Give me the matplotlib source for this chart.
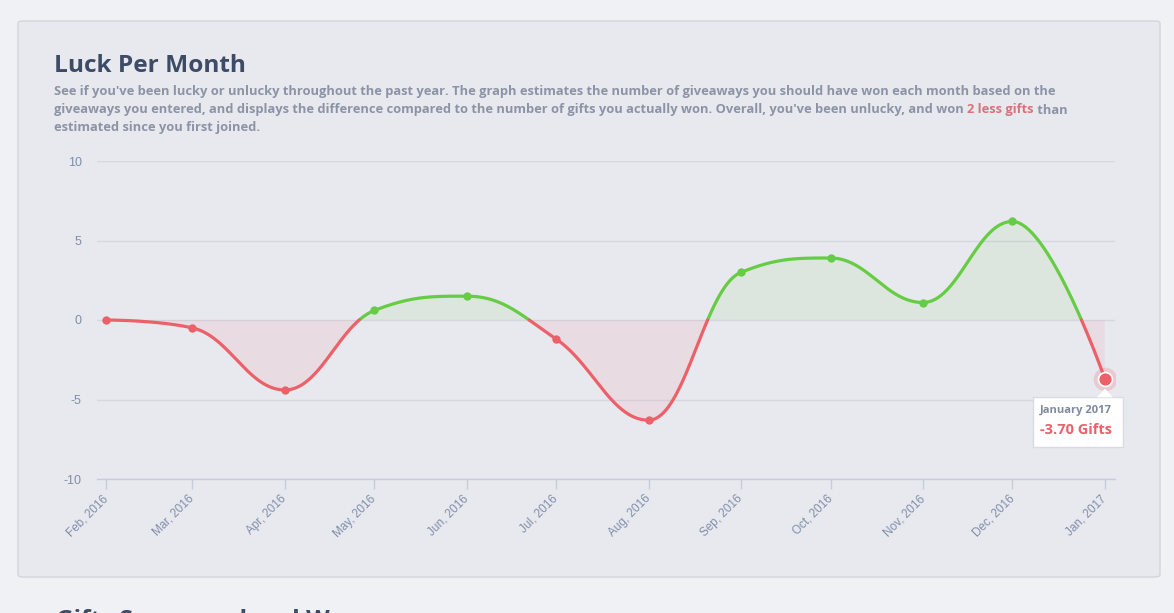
import numpy as np
import pandas as pd
import matplotlib
matplotlib.use("Agg")
import matplotlib.pyplot as plt
from matplotlib.patches import FancyBboxPatch, Polygon

# ---------------- Dados ----------------
MESES = pd.date_range("2016-02-01", periods=12, freq="MS")
ROTULOS = ["Feb, 2016", "Mar, 2016", "Apr, 2016", "May, 2016", "Jun, 2016", "Jul, 2016",
           "Aug, 2016", "Sep, 2016", "Oct, 2016", "Nov, 2016", "Dec, 2016", "Jan, 2017"]
SORTE = [0.0, -0.5, -4.4, 0.6, 1.5, -1.2, -6.3, 3.0, 3.9, 1.1, 6.2, -3.70]
Y_TICKS = [-10, -5, 0, 5, 10]

TITULO = "Luck Per Month"
DESC_1 = ("See if you've been lucky or unlucky throughout the past year. The graph estimates the "
          "number of giveaways you should have won each month based on the")
DESC_2A = ("giveaways you entered, and displays the difference compared to the number of gifts "
           "you actually won. Overall, you've been unlucky, and won ")
DESC_2B = "2 less gifts"
DESC_2C = " than"
DESC_3 = "estimated since you first joined."

VERDE = "#66cc44"
VERMELHO = "#ec6069"
FUNDO = "#f0f1f5"
PAINEL = "#e8e9ee"

W, H = 1174, 613


def fx(px):
    return px / W


def fy(py):
    return 1 - py / H


# ---------------- Spline estilo Highcharts ----------------
def spline(xs, ys, n=80):
    xs = np.asarray(xs, float)
    ys = np.asarray(ys, float)
    k = len(xs)
    lc = [(x, y) for x, y in zip(xs, ys)]
    rc = [(x, y) for x, y in zip(xs, ys)]
    sm, den = 1.5, 2.5
    for i in range(1, k - 1):
        lx, ly = xs[i - 1], ys[i - 1]
        px, py = xs[i], ys[i]
        nx, ny = xs[i + 1], ys[i + 1]
        lcx = (sm * px + lx) / den
        lcy = (sm * py + ly) / den
        rcx = (sm * px + nx) / den
        rcy = (sm * py + ny) / den
        corr = ((rcy - lcy) * (rcx - px)) / (rcx - lcx) + py - rcy
        lcy += corr
        rcy += corr
        if lcy > ly and lcy > py:
            lcy = max(ly, py)
            rcy = 2 * py - lcy
        elif lcy < ly and lcy < py:
            lcy = min(ly, py)
            rcy = 2 * py - lcy
        if rcy > ny and rcy > py:
            rcy = max(ny, py)
            lcy = 2 * py - rcy
        elif rcy < ny and rcy < py:
            rcy = min(ny, py)
            lcy = 2 * py - rcy
        lc[i] = (lcx, lcy)
        rc[i] = (rcx, rcy)
    t = np.linspace(0, 1, n)
    cx, cy = [], []
    for i in range(1, k):
        p0 = np.array([xs[i - 1], ys[i - 1]])
        p1 = np.array(rc[i - 1])
        p2 = np.array(lc[i])
        p3 = np.array([xs[i], ys[i]])
        b = ((1 - t) ** 3)[:, None] * p0 + (3 * (1 - t) ** 2 * t)[:, None] * p1 \
            + (3 * (1 - t) * t ** 2)[:, None] * p2 + (t ** 3)[:, None] * p3
        if i > 1:
            b = b[1:]
        cx.extend(b[:, 0])
        cy.extend(b[:, 1])
    return np.array(cx), np.array(cy)


def cortar_no_zero(cx, cy):
    # insere os pontos onde a curva cruza o zero
    ox, oy = [cx[0]], [cy[0]]
    for i in range(1, len(cx)):
        if (cy[i - 1] > 0 > cy[i]) or (cy[i - 1] < 0 < cy[i]):
            f = cy[i - 1] / (cy[i - 1] - cy[i])
            ox.append(cx[i - 1] + f * (cx[i] - cx[i - 1]))
            oy.append(0.0)
        ox.append(cx[i])
        oy.append(cy[i])
    return np.array(ox), np.array(oy)


dias = np.array([(m - MESES[0]).days for m in MESES], float)
cx, cy = cortar_no_zero(*spline(dias, SORTE))

# ---------------- Figura ----------------
fig = plt.figure(figsize=(W / 100, H / 100), dpi=100, facecolor=FUNDO)

painel = FancyBboxPatch((fx(18), fy(577)), fx(1160) - fx(18), fy(21) - fy(577),
                        boxstyle="round,pad=0,rounding_size=0.004",
                        transform=fig.transFigure, facecolor=PAINEL, edgecolor="#d3d5dd",
                        linewidth=1.0, zorder=-5)
fig.patches.append(painel)

ax = fig.add_axes([fx(97), fy(479), fx(1115) - fx(97), fy(161) - fy(479)])
ax.set_facecolor("none")

ax.fill_between(cx, cy, 0, where=cy >= 0, color=VERDE, alpha=0.09, linewidth=0, interpolate=True)
ax.fill_between(cx, cy, 0, where=cy <= 0, color=VERMELHO, alpha=0.09, linewidth=0, interpolate=True)

ax.plot(cx, np.ma.masked_where(cy < 0, cy), color=VERDE, linewidth=2.3, solid_capstyle="round", zorder=3)
ax.plot(cx, np.ma.masked_where(cy > 0, cy), color=VERMELHO, linewidth=2.3, solid_capstyle="round", zorder=3)

for d, v in zip(dias[:-1], SORTE[:-1]):
    ax.plot(d, v, "o", color=VERDE if v > 0 else VERMELHO, markersize=6, markeredgewidth=0, zorder=4)

# ponto destacado (hover)
ax.plot(dias[-1], SORTE[-1], "o", color=VERMELHO, markersize=17, alpha=0.22, markeredgewidth=0, zorder=4)
ax.plot(dias[-1], SORTE[-1], "o", color=VERMELHO, markersize=10, markeredgecolor="white",
        markeredgewidth=1.2, zorder=5)

ax.set_xlim(dias[0] - 3.0, dias[-1] + 3.4)
ax.set_ylim(-10, 10)
ax.set_yticks(Y_TICKS)
ax.set_yticklabels([str(t) for t in Y_TICKS])
ax.set_xticks(dias)
ax.set_xticklabels(ROTULOS, rotation=45, ha="right", va="center", rotation_mode="anchor")

ax.grid(axis="y", color="#d5d8e0", linewidth=1.0)
ax.set_axisbelow(True)
for lado in ["top", "right", "left"]:
    ax.spines[lado].set_visible(False)
ax.spines["bottom"].set_color("#c3cddc")
ax.spines["bottom"].set_linewidth(1.0)
ax.tick_params(axis="y", length=0, pad=11, labelsize=9, labelcolor="#7f8eab")
ax.tick_params(axis="x", length=7, width=1, color="#c3cddc", pad=6, labelsize=8.5, labelcolor="#7f8eab")
for lbl in ax.get_xticklabels() + ax.get_yticklabels():
    lbl.set_fontfamily("Liberation Sans")

# ---------------- Tooltip ----------------
fig.canvas.draw()
px, py = ax.transData.transform((dias[-1], SORTE[-1]))
bx0, bx1 = px - 72, px + 18
by1 = py - 18
by0 = by1 - 50
caixa = FancyBboxPatch((bx0, by0), bx1 - bx0, by1 - by0, boxstyle="square,pad=0",
                       transform=None, facecolor="white", edgecolor="#d9dbe2", linewidth=1, zorder=10)
fig.patches.append(caixa)
seta = Polygon([[px - 8, by1 - 0.5], [px, by1 + 8], [px + 8, by1 - 0.5]], closed=True,
               transform=None, facecolor="white", edgecolor="none", zorder=11)
fig.patches.append(seta)
fig.text(bx0 + 7, by1 - 14, "January 2017", transform=None, fontsize=8, fontweight="bold",
         color="#7f8aa0", family="Open Sans", va="center", ha="left", zorder=12)
fig.text(bx0 + 7, by1 - 33, "%.2f Gifts" % SORTE[-1], transform=None, fontsize=10.5, fontweight="bold",
         color=VERMELHO, family="Open Sans", va="center", ha="left", zorder=12)

# ---------------- Textos ----------------
fig.text(fx(54), fy(66), TITULO, fontsize=17.6, fontweight="bold", family="Open Sans",
         color="#3d4b66", va="center", ha="left")

cor_desc = "#8b93a5"
kw = dict(fontsize=9.3, fontweight="bold", family="Open Sans", va="center", ha="left")
fig.text(fx(54), fy(92), DESC_1, color=cor_desc, **kw)
t1 = fig.text(fx(54), fy(110), DESC_2A, color=cor_desc, **kw)
fig.canvas.draw()
r = fig.canvas.get_renderer()
x_px = t1.get_window_extent(r).x1
t2 = fig.text(x_px / W, fy(110), DESC_2B, color="#d7737b", **kw)
x_px = t2.get_window_extent(r).x1
fig.text(x_px / W, fy(110), DESC_2C, color=cor_desc, **kw)
fig.text(fx(54), fy(128), DESC_3, color=cor_desc, **kw)

# titulo da proxima secao (cortado na borda)
fig.text(fx(56), fy(609), "Gifts Sponsored and Won", fontsize=17.6, fontweight="bold",
         family="Open Sans", color="#3d4b66", va="top", ha="left")

fig.savefig("out.png", dpi=100, facecolor=FUNDO)
